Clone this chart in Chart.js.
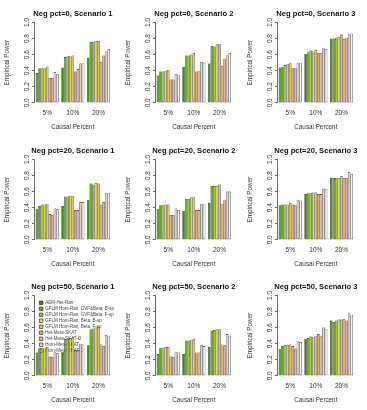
<!DOCTYPE html>
<html>
<head>
<meta charset="utf-8">
<script src="https://cdn.jsdelivr.net/npm/chart.js@4.4.0/dist/chart.umd.min.js"></script>
<style>
  html, body { margin: 0; padding: 0; background: #fff; }
  #grid { position: relative; width: 367px; height: 410px; overflow: hidden; }
  #grid canvas { position: absolute; }
</style>
</head>
<body>
<div id="grid"></div>
<script>
/* ---- data ---- */
const causalPercent = ['5%', '10%', '20%'];
const methods = [
    'AEM-Het-Ran',
    'GFLM Hom-Ran, GVF&Beta, B-sp',
    'GFLM Hom-Ran, GVF&Beta, F-sp',
    'GFLM Hom-Ran, Beta, B-sp',
    'GFLM Hom-Ran, Beta, F-sp',
    'Het-Meta-SKAT',
    'Het-Meta-SKAT-O',
    'Hom-Meta-SKAT',
    'Hom-Meta-SKAT-O'
];
const methodColors = ['#3a8a12', '#5daa1e', '#9bc92a', '#dcdc3a', '#e3c33a', '#dfae66', '#e3b594', '#eccbc0', '#f2f1ef'];
const yTicks = [0, 0.2, 0.4, 0.6, 0.8, 1.0];
const panelTitles = [
    'Neg pct=0, Scenario 1', 'Neg pct=0, Scenario 2', 'Neg pct=0, Scenario 3',
    'Neg pct=20, Scenario 1', 'Neg pct=20, Scenario 2', 'Neg pct=20, Scenario 3',
    'Neg pct=50, Scenario 1', 'Neg pct=50, Scenario 2', 'Neg pct=50, Scenario 3'
];

// one row per causal percent (5%, 10%, 20%), one value per method
const neg0Scen1 = [
    [0.37, 0.43, 0.43, 0.43, 0.45, 0.31, 0.31, 0.38, 0.36],
    [0.44, 0.57, 0.58, 0.58, 0.59, 0.39, 0.42, 0.49, 0.50],
    [0.56, 0.76, 0.76, 0.77, 0.77, 0.51, 0.59, 0.64, 0.67]
];
const neg0Scen2 = [
    [0.34, 0.39, 0.39, 0.40, 0.41, 0.29, 0.29, 0.36, 0.35],
    [0.45, 0.59, 0.59, 0.60, 0.62, 0.39, 0.40, 0.51, 0.50],
    [0.49, 0.71, 0.70, 0.73, 0.73, 0.46, 0.55, 0.59, 0.62]
];
const neg0Scen3 = [
    [0.44, 0.45, 0.47, 0.48, 0.50, 0.43, 0.43, 0.50, 0.50],
    [0.61, 0.63, 0.65, 0.64, 0.66, 0.62, 0.62, 0.68, 0.67],
    [0.80, 0.80, 0.81, 0.82, 0.85, 0.79, 0.81, 0.86, 0.86]
];
const neg20Scen1 = [
    [0.38, 0.42, 0.44, 0.44, 0.45, 0.32, 0.31, 0.39, 0.38],
    [0.42, 0.54, 0.54, 0.55, 0.55, 0.37, 0.37, 0.47, 0.47],
    [0.50, 0.70, 0.69, 0.71, 0.70, 0.44, 0.47, 0.58, 0.58]
];
const neg20Scen2 = [
    [0.38, 0.43, 0.43, 0.44, 0.44, 0.31, 0.31, 0.39, 0.37],
    [0.36, 0.51, 0.51, 0.53, 0.53, 0.37, 0.37, 0.45, 0.44],
    [0.46, 0.67, 0.67, 0.67, 0.69, 0.45, 0.50, 0.60, 0.60]
];
const neg20Scen3 = [
    [0.43, 0.44, 0.44, 0.44, 0.46, 0.44, 0.43, 0.50, 0.49],
    [0.57, 0.58, 0.58, 0.59, 0.59, 0.57, 0.57, 0.64, 0.63],
    [0.77, 0.77, 0.77, 0.77, 0.79, 0.77, 0.77, 0.84, 0.82]
];
const neg50Scen1 = [
    [0.29, 0.35, 0.35, 0.35, 0.36, 0.24, 0.23, 0.30, 0.28],
    [0.30, 0.46, 0.46, 0.47, 0.48, 0.32, 0.32, 0.40, 0.39],
    [0.38, 0.58, 0.59, 0.60, 0.61, 0.39, 0.37, 0.51, 0.50]
];
const neg50Scen2 = [
    [0.27, 0.35, 0.35, 0.36, 0.36, 0.24, 0.23, 0.30, 0.29],
    [0.27, 0.44, 0.44, 0.45, 0.46, 0.29, 0.29, 0.38, 0.37],
    [0.36, 0.56, 0.57, 0.58, 0.58, 0.39, 0.38, 0.52, 0.50]
];
const neg50Scen3 = [
    [0.33, 0.37, 0.38, 0.38, 0.39, 0.37, 0.34, 0.43, 0.42],
    [0.46, 0.47, 0.49, 0.48, 0.50, 0.52, 0.50, 0.60, 0.58],
    [0.69, 0.67, 0.69, 0.70, 0.70, 0.71, 0.69, 0.78, 0.76]
];
const panelData = [
    neg0Scen1, neg0Scen2, neg0Scen3,
    neg20Scen1, neg20Scen2, neg20Scen3,
    neg50Scen1, neg50Scen2, neg50Scen3
];

/* ---- layout ---- */
const FONT = '"Liberation Sans", Arial, Helvetica, sans-serif';
const TEXT = '#333';
const PANEL_W = 120;
const PANEL_H = 137;
const colLeft = [0, 121, 243];
const rowTop = [0, 137, 273];

// R-style main title, centred over the plot region
const panelTitle = {
    id: 'panelTitle',
    afterDraw(chart, args, opts) {
        const { ctx, chartArea } = chart;
        ctx.save();
        ctx.font = 'bold 7.6px ' + FONT;
        ctx.fillStyle = '#111';
        ctx.textAlign = 'center';
        ctx.textBaseline = 'middle';
        ctx.fillText(opts.text, (chartArea.left + chartArea.right) / 2, 13.5);
        ctx.restore();
    }
};

// put the in-plot legend a little inside the top-left corner
const legendInset = {
    id: 'legendInset',
    afterLayout(chart) {
        const lg = chart.legend;
        if (!lg || !chart.options.plugins.legend.display) return;
        lg.left = chart.chartArea.left + 3.5;
        lg.top = chart.chartArea.top + 3.5;
        lg.right = lg.left + lg.width;
        lg.bottom = lg.top + lg.height;
    }
};

function makePanel(idx) {
    const grid = document.getElementById('grid');
    const canvas = document.createElement('canvas');
    canvas.width = PANEL_W;
    canvas.height = PANEL_H;
    canvas.style.left = colLeft[idx % 3] + 'px';
    canvas.style.top = rowTop[Math.floor(idx / 3)] + 'px';
    grid.appendChild(canvas);

    const rows = panelData[idx];
    const datasets = methods.map((m, k) => ({
        label: m,
        data: rows.map(r => r[k]),
        backgroundColor: methodColors[k],
        borderColor: '#1a1a1a',
        borderWidth: 0.6,
        borderSkipped: false,
        categoryPercentage: 0.9,
        barPercentage: 1.0
    }));

    const showLegend = idx === 6;

    return new Chart(canvas, {
        type: 'bar',
        data: { labels: causalPercent, datasets: datasets },
        plugins: [panelTitle, legendInset],
        options: {
            responsive: false,
            animation: false,
            devicePixelRatio: 1,
            layout: { padding: { top: 22.5, right: 8.7, left: 0, bottom: 0 } },
            plugins: {
                legend: {
                    display: showLegend,
                    position: 'chartArea',
                    align: 'start',
                    labels: {
                        boxWidth: 3.5,
                        boxHeight: 3.5,
                        padding: 1.5,
                        color: '#444',
                        font: { size: 4.5, family: FONT }
                    }
                },
                tooltip: { enabled: false },
                panelTitle: { text: panelTitles[idx] }
            },
            scales: {
                x: {
                    offset: true,
                    grid: { display: false, drawTicks: false },
                    border: { display: false },
                    ticks: {
                        color: TEXT,
                        font: { size: 6.5, family: FONT },
                        padding: 6.6,
                        maxRotation: 0,
                        autoSkip: false
                    },
                    title: {
                        display: true,
                        text: 'Causal Percent',
                        color: TEXT,
                        font: { size: 6.3, family: FONT },
                        padding: { top: 0, bottom: 6.2 }
                    },
                    afterFit: s => { s.height = 34.2; }
                },
                y: {
                    min: 0,
                    max: 1,
                    afterBuildTicks: s => { s.ticks = yTicks.map(v => ({ value: v })); },
                    grid: {
                        drawOnChartArea: false,
                        drawTicks: true,
                        tickLength: 2.5,
                        color: '#444',
                        lineWidth: 0.8
                    },
                    border: { display: true, color: '#444', width: 0.8 },
                    ticks: {
                        color: TEXT,
                        font: { size: 6.5, family: FONT },
                        padding: 0.5,
                        minRotation: 90,
                        maxRotation: 90,
                        crossAlign: 'center',
                        callback: v => v.toFixed(1)
                    },
                    title: {
                        display: true,
                        text: 'Empirical Power',
                        color: TEXT,
                        font: { size: 6.3, family: FONT },
                        padding: { top: 3.7, bottom: 0 }
                    },
                    afterFit: s => { s.width = 34.4; }
                }
            }
        }
    });
}

for (let i = 0; i < panelData.length; i++) {
    makePanel(i);
}
</script>
</body>
</html>
